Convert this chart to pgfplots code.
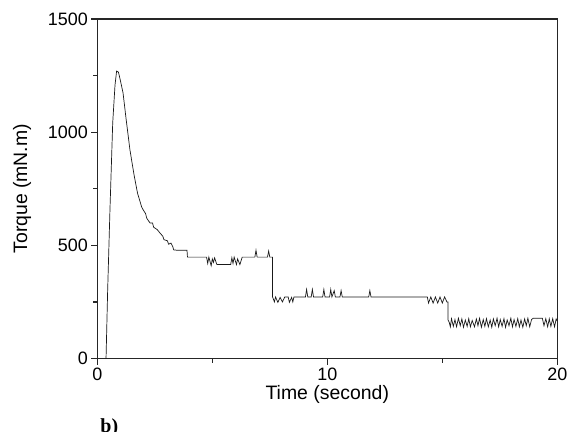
\documentclass[border=0pt]{standalone}
\usepackage{pgfplots}
\pgfplotsset{compat=1.18}
\usepackage{fontspec}
\setmainfont{Liberation Sans}
\newfontfamily\timesfont{Liberation Serif}
\begin{document}
\begin{tikzpicture}[x=1bp,y=1bp]
\begin{axis}[
  at={(0,0)}, anchor=south west,
  width=460bp, height=339.5bp, scale only axis,
  xmin=0, xmax=20, ymin=0, ymax=1500,
  xtick={0,10,20}, minor xtick={5,15},
  ytick={0,500,1000,1500}, minor ytick={250,750,1250},
  xtick pos=bottom, ytick pos=left,
  tick align=outside,
  major tick length=6bp, minor tick length=4bp,
  axis line style={line width=1.3bp, black!85},
  every tick/.style={line width=1.2bp, black!85},
  ticklabel style={font=\fontsize{18}{20}\selectfont},
  /pgf/number format/assume math mode=true,
  scaled ticks=false, /pgf/number format/1000 sep={},
  xlabel={Time (second)}, ylabel={Torque (mN.m)},
  every axis x label/.style={at={(axis description cs:0.5,-0.1045)}, anchor=center, font=\fontsize{19.5}{22}\selectfont},
  every axis y label/.style={at={(axis description cs:-0.1637,0.5)}, anchor=center, rotate=90, font=\fontsize{19.5}{22}\selectfont},
]
\addplot[black!90, line width=0.7bp] coordinates {
(0.38,0) (0.45,300) (0.55,656) (0.67,1041) (0.77,1208) (0.84,1270) (0.92,1265)
(1.0,1230) (1.12,1173) (1.25,1060) (1.42,921) (1.6,810) (1.75,730) (1.93,669)
(2.0,656) (2.1,640) (2.15,620) (2.29,599) (2.4,599) (2.45,580) (2.6,570) (2.73,554)
(2.85,540) (2.9,525) (3.05,520) (3.1,505) (3.2,510) (3.28,495) (3.32,480) (3.5,478)
(3.75,478) (3.9,478) (3.92,448)
(4.75,448) (4.8,420) (4.85,448) (4.95,410) (5.0,440) (5.05,425) (5.1,445) (5.2,415)
(5.8,415) (5.85,445) (5.9,420) (5.95,448) (6.05,415) (6.1,440) (6.2,415) (6.3,448)
(6.85,448) (6.9,478) (6.95,448) (7.4,448) (7.45,475) (7.5,448) (7.62,448)
(7.62,272) (7.7,250) (7.75,272) (7.85,248) (7.95,270) (8.05,250) (8.15,272) (8.3,272)
(8.35,248) (8.45,270) (8.5,250) (8.55,272) (9.05,272) (9.1,305) (9.15,272) (9.3,272)
(9.35,305) (9.4,272) (9.8,272) (9.85,305) (9.9,272) (10.1,272) (10.15,305) (10.2,272)
(10.3,300) (10.35,272) (10.55,272) (10.6,300) (10.65,272) (11.8,272) (11.85,300)
(11.9,272) (14.35,272) (14.4,245) (14.5,272) (14.6,245) (14.7,272) (14.8,245)
(14.9,272) (15.0,245) (15.1,272) (15.2,250) (15.25,250)
(15.25,170) (15.3,160) (15.35,140) (15.4,176) (15.48,142) (15.55,172) (15.62,140)
(15.7,178) (15.78,145) (15.85,175) (15.92,138) (16.0,170) (16.08,142) (16.15,176)
(16.22,140) (16.3,168) (16.4,140) (16.48,175) (16.55,145) (16.62,178) (16.7,138)
(16.78,172) (16.85,142) (16.92,176) (17.0,140) (17.08,170) (17.15,138) (17.22,175)
(17.3,145) (17.38,178) (17.45,140) (17.52,172) (17.6,142) (17.68,176) (17.75,138)
(17.82,170) (17.9,145) (17.98,178) (18.05,140) (18.12,172) (18.2,142) (18.28,176)
(18.35,140) (18.42,170) (18.5,138) (18.58,175) (18.65,145) (18.72,178) (18.8,140)
(18.88,172) (18.95,178) (19.35,178) (19.42,145) (19.5,176) (19.58,140) (19.65,175)
(19.72,142) (19.8,176) (19.88,140) (19.95,175) (20.0,165)
};
\end{axis}
\node[anchor=base west, inner sep=0pt, font=\timesfont\bfseries\fontsize{20}{22}\selectfont] at (3,-74) {b)};
\pgfresetboundingbox
\path[use as bounding box] (-97.3,-72.5) rectangle (480.7,358.5);
\end{tikzpicture}
\end{document}
